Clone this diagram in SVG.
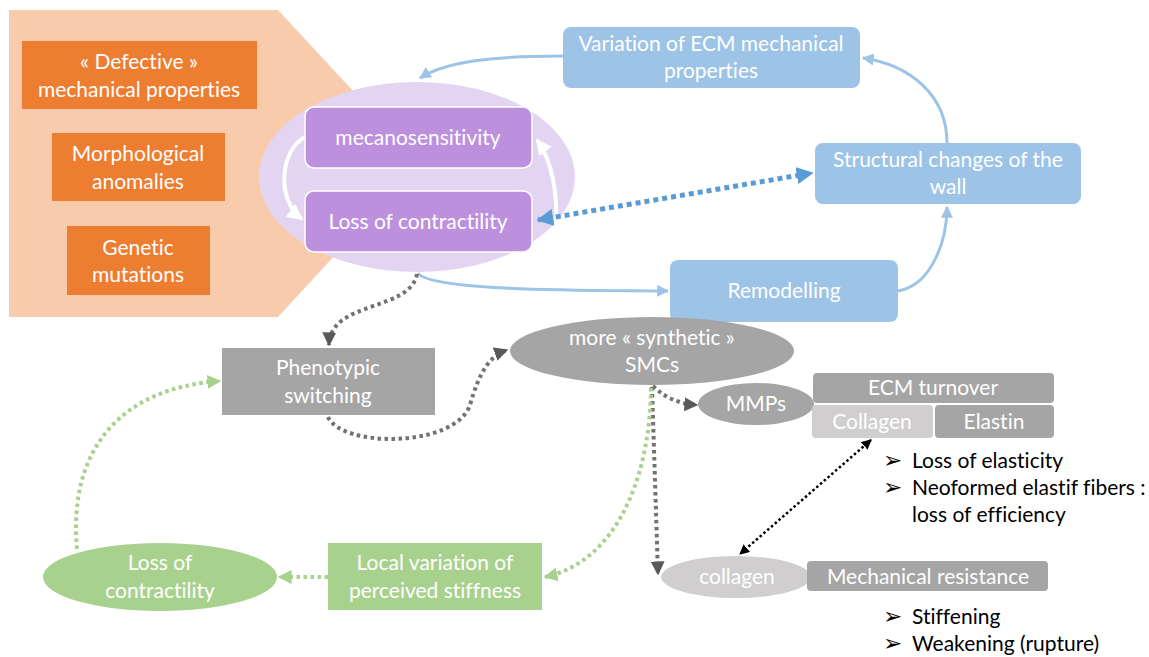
<svg xmlns="http://www.w3.org/2000/svg" width="1149" height="657" viewBox="0 0 1149 657">
<defs>
<style>
text{font-family:Lato,"Open Sans","Liberation Sans",sans-serif;font-size:21px;fill:#fff;text-anchor:middle;font-variant-ligatures:none}
.blk{fill:#000;text-anchor:start}
.bul{font-family:"DejaVu Sans",sans-serif;font-size:23px;fill:#000;text-anchor:start}
.orb{fill:#ED7D31}
.pur{fill:#BD90DE;stroke:#fff;stroke-width:1.5}
.blu{fill:#9DC3E6}
.gry{fill:#A5A5A5}
.lgr{fill:#D0CECE}
.grn{fill:#A9D18E}
.cb{fill:none;stroke:#9DC3E6;stroke-width:3}
.cbd{fill:none;stroke:#5B9BD5;stroke-width:5;stroke-dasharray:5 4}
.cg{fill:none;stroke:#767171;stroke-width:4;stroke-dasharray:3.5 3.5}
.cgr{fill:none;stroke:#A9D18E;stroke-width:4;stroke-dasharray:3.5 3.5}
.ck{fill:none;stroke:#000;stroke-width:2.5;stroke-dasharray:2.5 2.5}
.cw{fill:none;stroke:#fff;stroke-width:4}
</style>
<marker id="ab" viewBox="0 0 10 10" refX="9" refY="5" markerWidth="4" markerHeight="4" orient="auto-start-reverse" markerUnits="strokeWidth"><path d="M0,0 L10,5 L0,10 z" fill="#9DC3E6"/></marker>
<marker id="abd" viewBox="0 0 10 10" refX="9" refY="5" markerWidth="3.4" markerHeight="3.4" orient="auto-start-reverse" markerUnits="strokeWidth"><path d="M0,0 L10,5 L0,10 z" fill="#5B9BD5"/></marker>
<marker id="ag" viewBox="0 0 10 10" refX="9" refY="5" markerWidth="3.5" markerHeight="3.5" orient="auto-start-reverse" markerUnits="strokeWidth"><path d="M0,0 L10,5 L0,10 z" fill="#595959"/></marker>
<marker id="agr" viewBox="0 0 10 10" refX="9" refY="5" markerWidth="3.5" markerHeight="3.5" orient="auto-start-reverse" markerUnits="strokeWidth"><path d="M0,0 L10,5 L0,10 z" fill="#A9D18E"/></marker>
<marker id="ak" viewBox="0 0 10 10" refX="9" refY="5" markerWidth="4" markerHeight="4" orient="auto-start-reverse" markerUnits="strokeWidth"><path d="M0,0 L10,5 L0,10 z" fill="#000"/></marker>
<marker id="aw" viewBox="0 0 10 10" refX="9" refY="5" markerWidth="4" markerHeight="4" orient="auto-start-reverse" markerUnits="strokeWidth"><path d="M0,0 L10,5 L0,10 z" fill="#fff"/></marker>
</defs>
<rect width="1149" height="657" fill="#fff"/>

<g id="causes-bg"><polygon points="9,10 278,10 420,163 278,317 9,317" fill="#F8CBAD"/></g>
<g id="defective"><rect class="orb" x="22" y="41" width="235" height="68"/><text x="139" y="69">« Defective »</text><text x="139" y="97">mechanical properties</text></g>
<g id="morpho"><rect class="orb" x="52" y="133" width="173" height="68"/><text x="138" y="161">Morphological</text><text x="138" y="189">anomalies</text></g>
<g id="genetic"><rect class="orb" x="67" y="226" width="143" height="69"/><text x="138" y="255">Genetic</text><text x="138" y="282">mutations</text></g>

<g id="smc-cluster"><ellipse cx="417" cy="177" rx="158" ry="95" fill="#E3D5F1"/></g>
<g id="mecano"><rect class="pur" x="305" y="107" width="227" height="61" rx="9"/><text x="418" y="145">mecanosensitivity</text></g>
<g id="loss-top"><rect class="pur" x="305" y="191" width="227" height="61" rx="9"/><text x="418" y="229">Loss of contractility</text></g>

<g id="variation"><rect class="blu" x="563" y="27" width="297" height="61" rx="8"/><text x="711" y="51">Variation of ECM mechanical</text><text x="711" y="78">properties</text></g>
<g id="structural"><rect class="blu" x="815" y="143" width="266" height="61" rx="8"/><text x="948" y="167">Structural changes of the</text><text x="948" y="194">wall</text></g>
<g id="remodelling"><rect class="blu" x="670" y="260" width="228" height="62" rx="8"/><text x="784" y="298">Remodelling</text></g>

<g id="phenotypic"><rect class="gry" x="222" y="348" width="213" height="67"/><text x="328" y="375">Phenotypic</text><text x="328" y="403">switching</text></g>
<g id="smcs"><ellipse class="gry" cx="652" cy="351" rx="142" ry="34"/><text x="652" y="345">more « synthetic »</text><text x="652" y="372">SMCs</text></g>
<g id="mmps"><ellipse class="gry" cx="756" cy="404" rx="58" ry="21"/><text x="756" y="411">MMPs</text></g>
<g id="ecm-turnover"><rect class="gry" x="813" y="373" width="241" height="30" rx="4"/><text x="933" y="395">ECM turnover</text></g>
<g id="collagen-box"><rect class="lgr" x="812" y="405" width="121" height="33" rx="4"/><text x="872" y="429">Collagen</text></g>
<g id="elastin"><rect class="gry" x="935" y="405" width="119" height="33" rx="4"/><text x="994" y="429">Elastin</text></g>
<g id="elastin-notes"><text class="bul" x="883" y="468">➢</text><text class="blk" x="912" y="468">Loss of elasticity</text><text class="bul" x="883" y="495">➢</text><text class="blk" x="912" y="495">Neoformed elastif fibers :</text><text class="blk" x="912" y="522">loss of efficiency</text></g>
<g id="collagen-ell"><ellipse class="lgr" cx="736" cy="577" rx="75" ry="21"/><text x="737" y="584">collagen</text></g>
<g id="mech-res"><rect class="gry" x="807" y="561" width="241" height="30" rx="4"/><text x="928" y="584">Mechanical resistance</text></g>
<g id="collagen-notes"><text class="bul" x="883" y="624">➢</text><text class="blk" x="912" y="624">Stiffening</text><text class="bul" x="883" y="651">➢</text><text class="blk" x="912" y="651">Weakening (rupture)</text></g>

<g id="loss-bottom"><ellipse class="grn" cx="160" cy="577" rx="117" ry="34"/><text x="160" y="570">Loss of</text><text x="160" y="598">contractility</text></g>
<g id="local-var"><rect class="grn" x="328" y="543" width="214" height="67"/><text x="435" y="570">Local variation of</text><text x="435" y="598">perceived stiffness</text></g>

<g id="connectors">
<path class="cw" d="M305,137 C280,150 276,200 302,219" marker-end="url(#aw)"/>
<path class="cw" d="M556,225 C558,195 552,160 537,140" marker-end="url(#aw)"/>
<path class="cb" d="M563,56 C490,56 445,62 420,78" marker-end="url(#ab)"/>
<path class="cb" d="M947,143 C947,95 910,65 863,58" marker-end="url(#ab)"/>
<path class="cb" d="M418,273 C430,292 600,290 668,291" marker-end="url(#ab)"/>
<path class="cb" d="M898,291 C932,285 947,240 947,207" marker-end="url(#ab)"/>
<path class="cbd" d="M538,220 L812,173" marker-start="url(#abd)" marker-end="url(#abd)"/>
<path class="cg" d="M417,274 C410,312 330,300 329,345" marker-end="url(#ag)"/>
<path class="cg" d="M328,417 C342,448 455,448 470,405 C480,370 490,356 507,350" marker-end="url(#ag)"/>
<path class="cg" d="M653,386 C665,398 680,404 697,405" marker-end="url(#ag)"/>
<path class="cg" d="M652,387 L658,574" marker-end="url(#ag)"/>
<path class="ck" d="M871,440 L740,554" marker-start="url(#ak)" marker-end="url(#ak)"/>
<path class="cgr" d="M651,388 C650,480 615,562 545,577" marker-end="url(#agr)"/>
<path class="cgr" d="M328,577 L279,577" marker-end="url(#agr)"/>
<path class="cgr" d="M77,549 C68,450 120,388 220,381" marker-end="url(#agr)"/>
</g>
</svg>
